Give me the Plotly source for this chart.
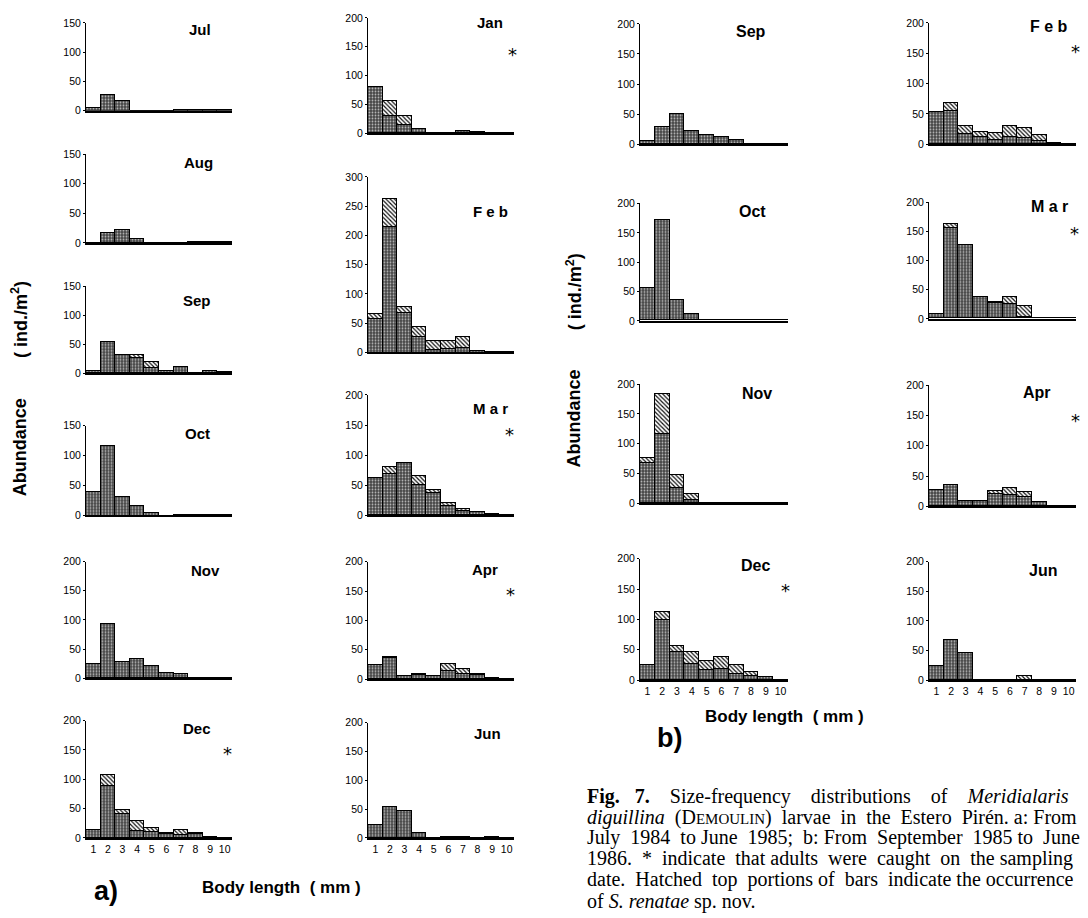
import plotly.graph_objects as go

# The page body has an 8px margin, so the figure is drawn 8px smaller and shifted.
OFF = 8
W, H = 1088 - OFF, 918 - OFF

size_classes = [1, 2, 3, 4, 5, 6, 7, 8, 9, 10]
size_tick_labels = ["1", "2", "3", "4", "5", "6", "7", "8", "9", "10"]

# ---- data: stippled (M. diguillina) part and hatched top (S. renatae) part ----
# Panel a (Jul 1984 - Jun 1985)
a_jul_low = [4, 27, 17, 0, 0, 0, 1, 1, 1, 1]
a_jul_top = [0, 0, 0, 0, 0, 0, 0, 0, 0, 0]
a_aug_low = [0, 16, 21, 6, 0, 0, 0, 1, 1, 1]
a_aug_top = [0, 0, 0, 0, 0, 0, 0, 0, 0, 0]
a_sep_low = [3, 53, 31, 25, 9, 4, 10, 0, 4, 1]
a_sep_top = [0, 0, 0, 5, 9, 0, 0, 0, 0, 0]
a_oct_low = [40, 116, 31, 16, 5, 0, 1, 1, 1, 1]
a_oct_top = [0, 0, 0, 0, 0, 0, 0, 0, 0, 0]
a_nov_low = [25, 94, 28, 33, 22, 10, 7, 0, 0, 0]
a_nov_top = [0, 0, 0, 0, 0, 0, 0, 0, 0, 0]
a_dec_low = [15, 90, 41, 13, 11, 7, 5, 7, 3, 1]
a_dec_top = [0, 18, 7, 17, 7, 3, 10, 3, 0, 0]
a_jan_low = [81, 30, 15, 7, 1, 1, 4, 2, 1, 1]
a_jan_top = [0, 26, 15, 0, 0, 0, 0, 0, 0, 0]
a_feb_low = [58, 215, 67, 27, 4, 7, 8, 3, 1, 1]
a_feb_top = [8, 47, 11, 17, 16, 13, 19, 0, 0, 0]
a_mar_low = [62, 68, 87, 51, 37, 16, 7, 6, 2, 1]
a_mar_top = [0, 12, 0, 14, 6, 5, 3, 0, 0, 0]
a_apr_low = [24, 36, 5, 8, 6, 14, 10, 8, 2, 1]
a_apr_top = [0, 3, 0, 2, 0, 13, 8, 2, 0, 0]
a_jun_low = [24, 54, 48, 9, 0, 2, 2, 0, 2, 1]
a_jun_top = [0, 0, 0, 0, 0, 0, 0, 0, 0, 0]
# Panel b (Sep 1985 - Jun 1986)
b_sep_low = [5, 29, 50, 22, 15, 12, 7, 1, 1, 1]
b_sep_top = [0, 0, 0, 0, 0, 0, 0, 0, 0, 0]
b_oct_low = [56, 171, 35, 11, 1, 1, 0, 0, 0, 0]
b_oct_top = [0, 0, 0, 0, 0, 0, 0, 0, 0, 0]
b_nov_low = [67, 117, 26, 5, 1, 1, 1, 1, 0, 0]
b_nov_top = [9, 66, 22, 10, 0, 0, 0, 0, 0, 0]
b_dec_low = [26, 100, 46, 27, 17, 19, 11, 8, 5, 1]
b_dec_top = [0, 13, 11, 20, 15, 20, 15, 6, 0, 0]
b_feb_low = [54, 55, 17, 12, 8, 12, 11, 5, 3, 1]
b_feb_top = [0, 14, 13, 9, 10, 18, 16, 10, 0, 0]
b_mar_low = [7, 156, 126, 36, 27, 24, 3, 1, 1, 1]
b_mar_top = [0, 7, 0, 0, 2, 12, 18, 0, 0, 0]
b_apr_low = [27, 36, 9, 9, 21, 19, 16, 8, 0, 0]
b_apr_top = [0, 0, 0, 0, 5, 11, 8, 0, 0, 0]
b_jun_low = [25, 68, 47, 0, 0, 0, 0, 0, 1, 0]
b_jun_top = [0, 0, 0, 0, 0, 0, 8, 0, 0, 0]

# ---- panel geometry in screen pixels ----
# label, low, top, ymax, x0, x1, ytop_px, yzero_px, label_xy, star_xy, show_x, label_size
panels = [
    ("Jul", a_jul_low, a_jul_top, 150, 86, 232, 17, 106, (200, 24), None, False, 15),
    ("Aug", a_aug_low, a_aug_top, 150, 86, 232, 150, 240, (198, 158), None, False, 15),
    ("Sep", a_sep_low, a_sep_top, 150, 86, 232, 284, 372, (197, 298), None, False, 15),
    ("Oct", a_oct_low, a_oct_top, 150, 86, 232, 425, 516, (197, 433), None, False, 15),
    ("Nov", a_nov_low, a_nov_top, 200, 86, 232, 563, 681, (205, 572), None, False, 15),
    ("Dec", a_dec_low, a_dec_top, 200, 86, 232, 724, 843, (197, 732), (227, 753), True, 15),
    ("Jan", a_jan_low, a_jan_top, 200, 368, 514, 12, 129, (490, 17), (512, 45), False, 15),
    ("F e b", a_feb_low, a_feb_top, 300, 368, 514, 173, 351, (490, 208), None, False, 15),
    ("M a r", a_mar_low, a_mar_top, 200, 368, 514, 394, 516, (490, 408), (509, 430), False, 15),
    ("Apr", a_apr_low, a_apr_top, 200, 368, 514, 563, 682, (485, 571), (510, 592), False, 15),
    ("Jun", a_jun_low, a_jun_top, 200, 368, 514, 726, 843, (487, 737), None, True, 15),
    ("Sep", b_sep_low, b_sep_top, 200, 640, 788, 18, 140, (751, 26), None, False, 16),
    ("Oct", b_oct_low, b_oct_top, 200, 640, 788, 200, 319, (752, 208), None, False, 16),
    ("Nov", b_nov_low, b_nov_top, 200, 640, 788, 383, 504, (757, 393), None, False, 16),
    ("Dec", b_dec_low, b_dec_top, 200, 640, 788, 560, 683, (755, 567), (785, 588), True, 16),
    ("F e b", b_feb_low, b_feb_top, 200, 929, 1076, 17, 140, (1049, 21), (1075, 42), False, 16),
    ("M a r", b_mar_low, b_mar_top, 200, 929, 1076, 199, 317, (1049, 203), (1074, 226), False, 16),
    ("Apr", b_apr_low, b_apr_top, 200, 929, 1076, 384, 507, (1037, 392), (1075, 416), False, 16),
    ("Jun", b_jun_low, b_jun_top, 200, 929, 1076, 563, 683, (1043, 572), None, True, 16),
]

def px(x):
    return (x - OFF) / W

def py(y):
    return 1 - (y - OFF) / H

stipple = dict(shape=".", bgcolor="#454545", fgcolor="#b8b8b8", size=3, solidity=0.3, fillmode="replace")
hatch = dict(shape="\\", bgcolor="#ffffff", fgcolor="#111111", size=3, solidity=0.4, fillmode="replace")

fig = go.Figure()
layout = {}
annotations = []
axis_font = dict(family="Liberation Sans", size=10.5, color="black")

for i, (month, low, top, ymax, x0, x1, yt, yz, lab, star, show_x, lsize) in enumerate(panels):
    n = i + 1
    xa = "x" if n == 1 else f"x{n}"
    ya = "y" if n == 1 else f"y{n}"
    fig.add_trace(go.Bar(x=size_classes, y=low, xaxis=xa, yaxis=ya, width=1,
                         marker=dict(color="#454545", pattern=stipple,
                                     line=dict(color="black", width=1)),
                         showlegend=False, hoverinfo="skip"))
    fig.add_trace(go.Bar(x=size_classes, y=top, xaxis=xa, yaxis=ya, width=1,
                         marker=dict(color="white", pattern=hatch,
                                     line=dict(color="black", width=1)),
                         showlegend=False, hoverinfo="skip"))
    xkey = "xaxis" if n == 1 else f"xaxis{n}"
    ykey = "yaxis" if n == 1 else f"yaxis{n}"
    layout[xkey] = dict(domain=[px(x0), px(x1)], range=[0.5, 10.5], anchor=ya,
                        showline=True, linecolor="black", linewidth=2,
                        showgrid=False, zeroline=False, ticks="",
                        tickvals=size_classes, ticktext=size_tick_labels,
                        showticklabels=show_x,
                        tickfont=dict(family="Liberation Sans", size=10.5, color="black"))
    layout[ykey] = dict(domain=[py(yz), py(yt)], range=[0, ymax], anchor=xa,
                        showline=True, linecolor="black", linewidth=1,
                        showgrid=False, zeroline=False, ticks="outside",
                        ticklen=2, tickwidth=1, tickcolor="black",
                        dtick=50, tickfont=axis_font)
    annotations.append(dict(x=px(lab[0]), y=py(lab[1]), xref="paper", yref="paper",
                            text=f"<b>{month}</b>", showarrow=False,
                            xanchor="center", yanchor="middle",
                            font=dict(family="Liberation Sans", size=lsize, color="black")))
    if star:
        annotations.append(dict(x=px(star[0]), y=py(star[1] + 4), xref="paper", yref="paper",
                                text="*", showarrow=False, xanchor="center", yanchor="middle",
                                font=dict(family="DejaVu Sans", size=18, color="black")))

title_font = dict(family="Liberation Sans", size=18, color="black")
annotations += [
    dict(x=px(20), y=py(447), xref="paper", yref="paper", textangle=-90,
         text="<b>Abundance</b>", showarrow=False,
         xanchor="center", yanchor="middle", font=title_font),
    dict(x=px(20), y=py(318), xref="paper", yref="paper", textangle=-90,
         text="<b>( ind./m<sup>2</sup>)</b>", showarrow=False,
         xanchor="center", yanchor="middle", font=title_font),
    dict(x=px(574), y=py(418), xref="paper", yref="paper", textangle=-90,
         text="<b>Abundance</b>", showarrow=False,
         xanchor="center", yanchor="middle", font=title_font),
    dict(x=px(574), y=py(290), xref="paper", yref="paper", textangle=-90,
         text="<b>( ind./m<sup>2</sup>)</b>", showarrow=False,
         xanchor="center", yanchor="middle", font=title_font),
    dict(x=px(92), y=py(897), xref="paper", yref="paper", text="<b>a)</b>",
         showarrow=False, xanchor="left", yanchor="middle",
         font=dict(family="Liberation Sans", size=27, color="black")),
    dict(x=px(200), y=py(893), xref="paper", yref="paper", text="<b>Body length  ( mm )</b>",
         showarrow=False, xanchor="left", yanchor="middle",
         font=dict(family="Liberation Sans", size=17, color="black")),
    dict(x=px(655), y=py(742), xref="paper", yref="paper", text="<b>b)</b>",
         showarrow=False, xanchor="left", yanchor="middle",
         font=dict(family="Liberation Sans", size=27, color="black")),
    dict(x=px(703), y=py(720), xref="paper", yref="paper", text="<b>Body length  ( mm )</b>",
         showarrow=False, xanchor="left", yanchor="middle",
         font=dict(family="Liberation Sans", size=17, color="black")),
]

# caption, set with extra word spaces to imitate the justified print layout
caption_lines = [
    "<b>Fig.   7.</b>    Size-frequency    distributions    of    <i>Meridialaris</i>",
    "<i>diguillina</i>  (D<span style='font-size:15px'>EMOULIN</span>)  larvae  in  the  Estero  Pirén. a: From",
    "July  1984  to June  1985;  b: From  September  1985 to  June",
    "1986.  *  indicate  that adults  were  caught  on  the sampling",
    "date.  Hatched  top  portions of  bars  indicate the occurrence",
    "of <i>S. renatae</i> sp. nov.",
]
cap_y = [801, 822, 843, 864, 885, 907]
for line, yy in zip(caption_lines, cap_y):
    annotations.append(dict(x=px(585), y=py(yy), xref="paper", yref="paper", text=line,
                            showarrow=False, xanchor="left", yanchor="middle",
                            font=dict(family="Liberation Serif", size=20, color="black")))

fig.update_layout(width=W, height=H, margin=dict(l=0, r=0, t=0, b=0),
                  paper_bgcolor="white", plot_bgcolor="white",
                  barmode="stack", bargap=0, annotations=annotations, **layout)

fig.write_html("out.html")
